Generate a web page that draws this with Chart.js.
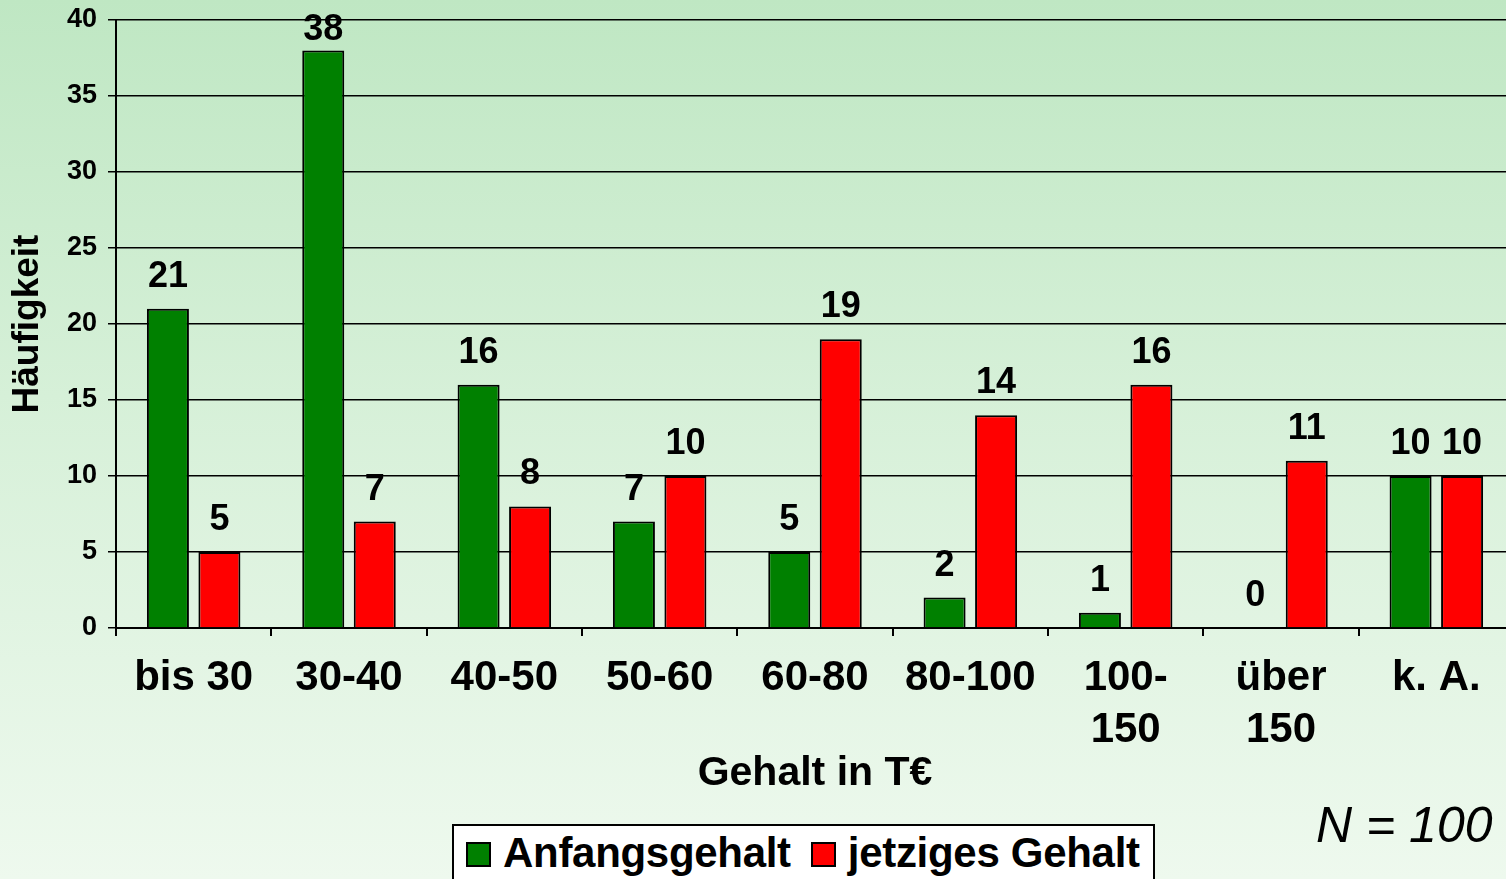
<!DOCTYPE html>
<html lang="de">
<head>
<meta charset="utf-8">
<title>Gehalt in T€</title>
<script src="https://cdn.jsdelivr.net/npm/chart.js@4.4.1/dist/chart.umd.min.js"></script>
<style>
  html, body { margin: 0; padding: 0; width: 1506px; height: 879px; overflow: hidden; }
  body {
    position: relative;
    background: linear-gradient(to bottom, #bfe7c3 0%, #d6f0d8 45%, #eef9ee 100%);
    font-family: "Liberation Sans", Arial, sans-serif;
  }
  #wrap { position: absolute; left: 0; top: 0; width: 1520px; height: 879px; }
  #legend {
    position: absolute; left: 452px; top: 824px; width: 703px; height: 80px;
    background: #fff; border: 2px solid #000;
    display: flex; align-items: flex-start; padding-left: 12px; box-sizing: border-box;
    white-space: nowrap;
  }
  .item { display: flex; align-items: flex-start; margin-right: 20px; flex: none; }
  .box { width: 21px; height: 21px; border: 2px solid #000; margin-top: 16px; margin-right: 12px; }
  .txt { font-weight: bold; font-size: 42px; line-height: 42px; margin-top: 6px; letter-spacing: -0.3px; }
  #note {
    position: absolute; left: 1316px; top: 800px;
    font-style: italic; font-size: 50px; line-height: 50px;
  }
</style>
</head>
<body>
<div id="wrap"><canvas id="chart"></canvas></div>
<div id="legend"></div>
<div id="note">N = 100</div>
<script>
// ---- DATA ----
const categories = ['bis 30', '30-40', '40-50', '50-60', '60-80', '80-100', ['100-', '150'], ['über', '150'], 'k. A.'];
const seriesNames = ['Anfangsgehalt', 'jetziges Gehalt'];
const startSalary = [21, 38, 16, 7, 5, 2, 1, 0, 10];
const currentSalary = [5, 7, 8, 10, 19, 14, 16, 11, 10];
const yTicks = [0, 5, 10, 15, 20, 25, 30, 35, 40];

const colors = ['#008000', '#ff0000'];
const FONT = '"Liberation Sans", Arial, sans-serif';

// ---- VALUE LABELS ----
const valueLabels = {
  id: 'valueLabels',
  afterDatasetsDraw(chart) {
    const ctx = chart.ctx;
    ctx.save();
    ctx.font = 'bold 36px ' + FONT;
    ctx.fillStyle = '#000';
    ctx.textAlign = 'center';
    ctx.textBaseline = 'alphabetic';
    chart.data.datasets.forEach((ds, i) => {
      chart.getDatasetMeta(i).data.forEach((bar, j) => {
        const y = Math.max(bar.y - 22, chart.chartArea.top + 20);
        ctx.fillText(String(ds.data[j]), bar.x, y);
      });
    });
    ctx.restore();
  }
};

// ---- CHART ----
new Chart(document.getElementById('chart'), {
  type: 'bar',
  data: {
    labels: categories,
    datasets: [
      { label: seriesNames[0], data: startSalary, backgroundColor: colors[0] },
      { label: seriesNames[1], data: currentSalary, backgroundColor: colors[1] }
    ]
  },
  options: {
    responsive: true,
    maintainAspectRatio: false,
    animation: false,
    layout: { padding: { top: 20, right: 6, left: 0, bottom: 0 } },
    datasets: {
      bar: {
        categoryPercentage: 0.663,
        barPercentage: 0.816,
        borderColor: '#000',
        borderWidth: 2
      }
    },
    plugins: {
      legend: { display: false },
      tooltip: { enabled: false }
    },
    scales: {
      x: {
        grid: { drawOnChartArea: false, drawTicks: true, tickLength: 8, color: '#000', lineWidth: 2 },
        border: { display: true, color: '#000', width: 2 },
        ticks: {
          color: '#000', autoSkip: false, maxRotation: 0, padding: 16,
          font: { family: FONT, size: 42, weight: 'bold', lineHeight: 1.24 }
        },
        title: {
          display: true, text: 'Gehalt in T€', color: '#000',
          font: { family: FONT, size: 41, weight: 'bold' },
          padding: { top: 0, bottom: 81 }
        },
        afterFit(scale) { scale.height = 251; }
      },
      y: {
        min: 0, max: 40,
        afterBuildTicks(scale) { scale.ticks = yTicks.map(v => ({ value: v })); },
        grid: { color: '#000', lineWidth: 1.5, tickLength: 8 },
        border: { display: true, color: '#000', width: 2 },
        ticks: {
          color: '#000', padding: 11,
          font: { family: FONT, size: 27, weight: 'bold' }
        },
        title: {
          display: true, text: 'Häufigkeit', color: '#000',
          font: { family: FONT, size: 37, weight: 'bold' },
          padding: { top: 6, bottom: 0 }
        },
        afterFit(scale) {
          scale.width = 116;
          scale.paddingTop = 0;
          scale.paddingBottom = 0;
        }
      }
    }
  },
  plugins: [valueLabels]
});

// ---- LEGEND ----
const legend = document.getElementById('legend');
seriesNames.forEach((name, i) => {
  const item = document.createElement('div');
  item.className = 'item';
  item.innerHTML = `<div class="box" style="background:${colors[i]}"></div><div class="txt">${name}</div>`;
  legend.appendChild(item);
});
</script>
</body>
</html>
